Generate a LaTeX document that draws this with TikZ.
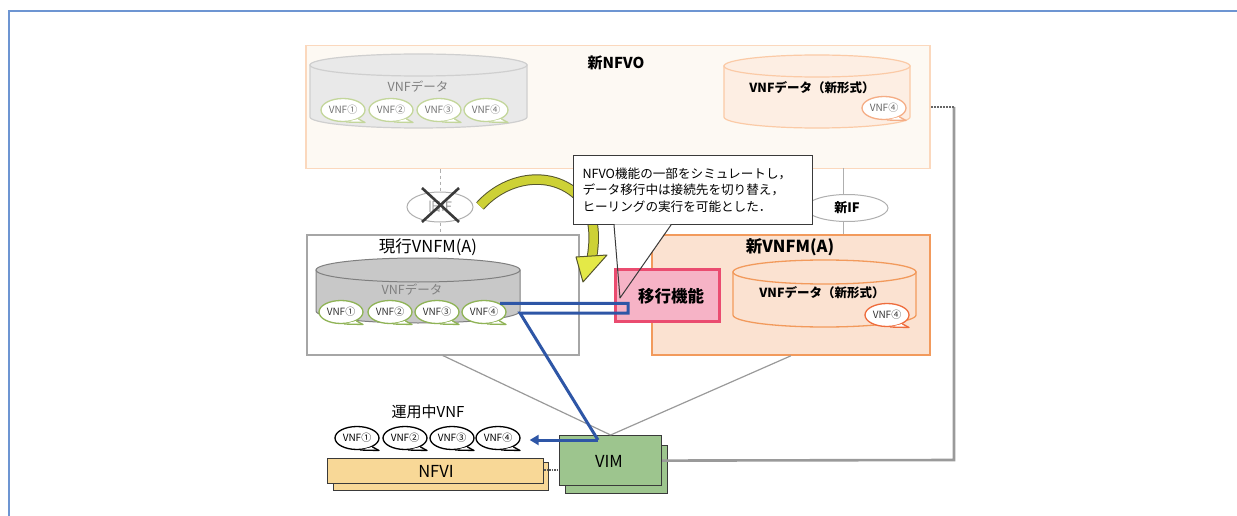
\documentclass[tikz,border=0pt]{standalone}
\usepackage{fontspec}
\setmainfont{Noto Sans CJK JP}
\usetikzlibrary{arrows.meta,calc,shapes.geometric}
\definecolor{frameblue}{HTML}{6D95D2}
\definecolor{nfvofill}{HTML}{FDF9F3}
\definecolor{nfvodraw}{HTML}{FBD8BD}
\definecolor{cylgrayL}{HTML}{E9E9E9}
\definecolor{cylgrayLd}{HTML}{CFCFCF}
\definecolor{cylorL}{HTML}{FDEEE3}
\definecolor{cylorLd}{HTML}{FBCAA6}
\definecolor{bubgreen}{HTML}{8FB356}
\definecolor{bubgreenL}{HTML}{C3D69B}
\definecolor{buborange}{HTML}{EE6C3C}
\definecolor{buborangeL}{HTML}{F5AD85}
\definecolor{vnfmgray}{HTML}{A6A6A6}
\definecolor{cylgray}{HTML}{C8C8C8}
\definecolor{cylgrayd}{HTML}{7F7F7F}
\definecolor{newfill}{HTML}{FBE2D1}
\definecolor{newdraw}{HTML}{F29A5C}
\definecolor{pinkfill}{HTML}{F6B3C6}
\definecolor{pinkdraw}{HTML}{EA4C70}
\definecolor{nfvifill}{HTML}{F8D897}
\definecolor{vimfill}{HTML}{9DC58E}
\definecolor{blueline}{HTML}{2E56A6}
\definecolor{yel}{HTML}{CDD136}
\definecolor{yelhead}{HTML}{E4E947}
\definecolor{yeldraw}{HTML}{55552E}
\definecolor{linegray}{HTML}{9A9A9A}
\definecolor{ifgray}{HTML}{AFAFAF}
\definecolor{darkline}{HTML}{3A3A3A}
\newcommand\mycyl[6]{%
  \pgfmathsetmacro\rxx{(#2-#1)/2}\pgfmathsetmacro\cxx{(#1+#2)/2}%
  \draw[#6] (#1,-#3) -- (#1,-#4) arc[start angle=180,end angle=360,x radius=\rxx,y radius=#5] -- (#2,-#3) -- cycle;
  \draw[#6] (\cxx,-#3) ellipse[x radius=\rxx,y radius=#5];
}
\newcommand\vbub[6][]{%
  \node[bub=#5,#1] (#2) at (#3,-#4) {#6};
  \draw[#5, line width=1.3pt, fill=white, line join=round] (#2.-75) -- ($(#2.center)+(22,-12.5)$) -- (#2.-30);
}
\begin{document}
\begin{tikzpicture}[x=1pt,y=1pt,
  bub/.style={ellipse, draw=#1, line width=1.3pt, fill=white, inner sep=0pt,
    minimum width=44pt, minimum height=23pt, font=\fontsize{10}{10}\selectfont},
  boxnode/.style={rectangle, inner sep=0pt, anchor=north west},
  stack/.style={rectangle, inner sep=0pt, anchor=north west, draw=darkline, line width=1.2pt},
  glines/.style={linegray, line width=1.2pt},
  bluepath/.style={blueline, line width=3pt, line join=miter}
]
\useasboundingbox (0,0) rectangle (1237,-516);
% frame
\draw[frameblue, line width=1.3pt] (9,-516) -- (9,-11) -- (1237,-11);

% ---------------- NFVO
\node[boxnode, draw=nfvodraw, fill=nfvofill, line width=1.5pt, minimum width=624pt, minimum height=123pt] (nfvo) at (305,-45) {};
\node[font=\fontsize{15}{15}\selectfont\bfseries] (nfvotitle) at (616,-63) {新NFVO};
\mycyl{310}{527}{65}{117}{11}{draw=cylgrayLd, fill=cylgrayL, line width=1.2pt}
\node[font=\fontsize{12.5}{12.5}\selectfont, text=black!50] (d1) at (418,-87) {VNFデータ};
\vbub[text=black!55]{t1}{343}{110}{bubgreenL}{VNF①}
\vbub[text=black!55]{t2}{391}{110}{bubgreenL}{VNF②}
\vbub[text=black!55]{t3}{439}{110}{bubgreenL}{VNF③}
\vbub[text=black!55]{t4}{486}{110}{bubgreenL}{VNF④}
\mycyl{724}{910}{66}{117}{11}{draw=cylorLd, fill=cylorL, line width=1.2pt}
\node[font=\fontsize{12.5}{12.5}\selectfont\bfseries] (d2) at (812,-88) {VNFデータ（新形式）};
\vbub[text=black!60]{t5}{884}{108}{buborangeL}{VNF④}

% ---------------- VNFM boxes
\node[boxnode, draw=vnfmgray, fill=white, line width=1.5pt, minimum width=272pt, minimum height=120pt] (vnfma) at (306,-234) {};
\node[font=\fontsize{16.5}{16.5}\selectfont] (vnfmalabel) at (428,-247) {現行VNFM(A)};
\mycyl{316}{520}{270}{311}{12}{draw=cylgrayd, fill=cylgray, line width=1pt}
\node[font=\fontsize{12.5}{12.5}\selectfont, text=black!50] (d3) at (412,-290) {VNFデータ};
\vbub[text=black!80]{m1}{341}{312}{bubgreen}{VNF①}
\vbub[text=black!80]{m2}{390}{312}{bubgreen}{VNF②}
\vbub[text=black!80]{m3}{437}{312}{bubgreen}{VNF③}
\vbub[text=black!80]{m4}{484}{312}{bubgreen}{VNF④}

\node[boxnode, draw=newdraw, fill=newfill, line width=1.8pt, minimum width=278pt, minimum height=120pt] (newvnfm) at (651,-234) {};
\node[font=\fontsize{16.5}{16.5}\selectfont\bfseries] (newlabel) at (790,-247) {新VNFM(A)};
\mycyl{733}{916}{272}{315}{12}{draw=newdraw, fill=newfill, line width=1.3pt}
\node[font=\fontsize{12.5}{12.5}\selectfont\bfseries] (d4) at (822,-293) {VNFデータ（新形式）};
\vbub[text=black!80]{n4}{887}{315}{buborange}{VNF④}

% ---------------- IF ellipses and lines
\node[ellipse, draw=ifgray, fill=white, line width=1pt, minimum width=66pt, minimum height=30pt, inner sep=0pt,
      font=\fontsize{13}{13}\selectfont, text=black!40] (oldif) at (440,-207) {旧IF};
\draw[ifgray, line width=1pt, dashed] (oldif.north |- nfvo.south) -- (oldif.north);
\draw[ifgray, line width=1pt, dashed] (oldif.south) -- (oldif.south |- vnfma.north);
\draw[darkline, line width=2.6pt] ($(oldif.center)+(-18,19)$) -- ($(oldif.center)+(19,-15)$);
\draw[darkline, line width=2.6pt] ($(oldif.center)+(19,19)$) -- ($(oldif.center)+(-18,-15)$);

\node[ellipse, draw=ifgray, fill=white, line width=1pt, minimum width=82pt, minimum height=27pt, inner sep=0pt,
      font=\fontsize{13}{13}\selectfont\bfseries] (newif) at (847,-208) {新IF};
\draw[ifgray, line width=1pt] (843,-168) -- (843,-194.5);
\draw[ifgray, line width=1pt] (843,-221.5) -- (843,-234);

% ---------------- yellow arrow
\coordinate (ya) at (480,-206);
\coordinate (yb) at (592,-257);
\draw[yeldraw, line width=10.5pt] (ya) .. controls (505,-178) and (547,-170) .. (575,-193) .. controls (594,-208) and (596,-232) .. (yb);
\draw[yel, line width=8.5pt] (ya) .. controls (505,-178) and (547,-170) .. (575,-193) .. controls (594,-208) and (596,-232) .. (yb);
\draw[yeldraw, fill=yelhead, line width=1pt, line join=round] (576,-257) -- (607,-255) -- (583,-282) -- cycle;

% ---------------- callout
\node[boxnode, draw=darkline, fill=white, line width=1pt, minimum width=239pt, minimum height=69pt,
      text width=221pt, inner xsep=9pt, align=left, font=\fontsize{12.6}{16.5}\selectfont] (callout) at (573,-155)
      {NFVO機能の一部をシミュレートし，\\データ移行中は接続先を切り替え，\\ヒーリングの実行を可能とした．};
\coordinate (tl) at ($(callout.south west)+(41,0)$);
\coordinate (tr) at ($(callout.south west)+(98,0)$);
\coordinate (tip) at (620,-298);
\fill[white] ($(tl)+(0.5,0.6)$) -- (tip) -- ($(tr)+(-0.5,0.6)$) -- cycle;

% ---------------- migration function
\node[boxnode, draw=pinkdraw, fill=pinkfill, line width=3pt, minimum width=104pt, minimum height=52pt] (mig) at (614,-268) {};
\node[font=\fontsize{16.5}{16.5}\selectfont\bfseries] (miglabel) at (671,-296) {移行機能};
\draw[darkline, line width=1pt, line join=round] (tl) -- (tip) -- (tr);

% ---------------- NFVI / VIM
\node[stack, fill=nfvifill, minimum width=215pt, minimum height=28pt] (nfviback) at (333,-462) {};
\node[stack, fill=nfvifill, minimum width=216pt, minimum height=25pt] (nfvi) at (327,-458) {};
\node[font=\fontsize{16.5}{16.5}\selectfont] (nfvilabel) at (436,-471) {NFVI};
\node[stack, fill=vimfill, minimum width=102pt, minimum height=48pt] (vimback) at (565,-445) {};
\node[stack, fill=vimfill, minimum width=102pt, minimum height=50pt] (vim) at (559,-435) {};
\node[font=\fontsize{16.5}{16.5}\selectfont] (vimlabel) at (609,-461) {VIM};
\draw[black!65, line width=2.4pt, dash pattern=on 1.5pt off 1pt] (nfvi.east |- 0,-470) -- (vim.west |- 0,-470);

\node[font=\fontsize{15}{15}\selectfont] (oplabel) at (428,-412) {運用中VNF};
\vbub{u1}{357}{438}{black}{VNF①}
\vbub{u2}{405}{438}{black}{VNF②}
\vbub{u3}{452}{438}{black}{VNF③}
\vbub{u4}{498}{438}{black}{VNF④}

% ---------------- connectors
\draw[glines] (vnfma.south) -- (vim.north);
\draw[glines] (newvnfm.south) -- (vim.north);
\draw[linegray, line width=2.6pt] (vim.east) -- (954,-460) coordinate (corner1) -- (954,-107) coordinate (corner2);
\draw[black!60, line width=1.6pt, dash pattern=on 2pt off 1pt] (corner2) -- (corner2 -| nfvo.east);

% blue route
\coordinate (bR) at (628,-301);
\coordinate (bC) at (520,-313);
\coordinate (bD) at (598,-440);
\draw[bluepath] (m4.north east) -- (m4.north east -| bR) |- (bC) -- (bD);
\draw[bluepath, -{Triangle[length=9pt,width=10pt]}] (bD) -- ([xshift=9pt]u4.east |- bD);
\end{tikzpicture}
\end{document}
